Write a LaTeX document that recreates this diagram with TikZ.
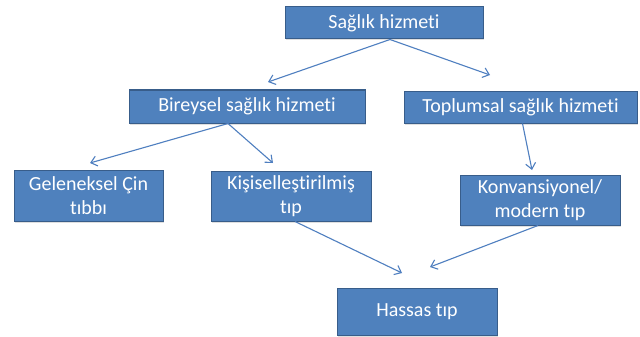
\documentclass[tikz,border=0pt]{standalone}
\usepackage{fontspec}
\setmainfont{Carlito}[Ligatures={NoCommon}]
\usetikzlibrary{arrows.meta,shadows}
\definecolor{boxfill}{HTML}{4F81BD}
\definecolor{boxline}{HTML}{385D8A}
\definecolor{arrowc}{HTML}{4F7FC0}
\begin{document}
\begin{tikzpicture}[x=1pt,y=-1pt,
  box/.style={draw=boxline,line width=1pt,fill=boxfill,text=white,
    inner sep=0pt,align=center,font=\fontsize{20}{24.5}\selectfont,
    drop shadow={shadow xshift=1pt,shadow yshift=-1.5pt,opacity=0.25}},
  conn/.style={draw=arrowc,line width=1.1pt,-{Straight Barb[length=6pt,width=10pt]}}]
\useasboundingbox[fill=white] (0,0) rectangle (640,337);
\node[box,minimum width=198pt,minimum height=32pt] (top) at (384,23) {Sağlık hizmeti};
\node[box,minimum width=236pt,minimum height=33pt] (bir) at (247,106.5) {Bireysel sağlık hizmeti};
\node[box,minimum width=233pt,minimum height=32pt] (top2) at (520.5,107) {Toplumsal sağlık hizmeti};
\node[box,minimum width=149pt,minimum height=51pt] (gel) at (88.5,195.5) {Geleneksel Çin\\tıbbı};
\node[box,minimum width=160pt,minimum height=50pt] (kis) at (291,196) {Kişiselleştirilmiş\\tıp};
\node[box,minimum width=160pt,minimum height=50pt] (kon) at (540,200) {Konvansiyonel/\\modern tıp};
\node[box,minimum width=160pt,minimum height=47pt] (has) at (417,311.5) {Hassas tıp};
\coordinate (t1) at (268,82);
\coordinate (t2) at (490,75);
\coordinate (t3) at (90,163);
\coordinate (t4) at (273,163);
\coordinate (t5) at (532,170);
\coordinate (t6) at (402,273);
\coordinate (t7) at (430,267);
\draw[conn] ([xshift=6pt]top.south) -- (t1);
\draw[conn] ([xshift=6pt]top.south) -- (t2);
\draw[conn] ([xshift=-19pt]bir.south) -- (t3);
\draw[conn] ([xshift=-19pt]bir.south) -- (t4);
\draw[conn] ([xshift=2pt]top2.south) -- (t5);
\draw[conn] ([xshift=4pt]kis.south) -- (t6);
\draw[conn] ([xshift=-2pt]kon.south) -- (t7);
\end{tikzpicture}
\end{document}
